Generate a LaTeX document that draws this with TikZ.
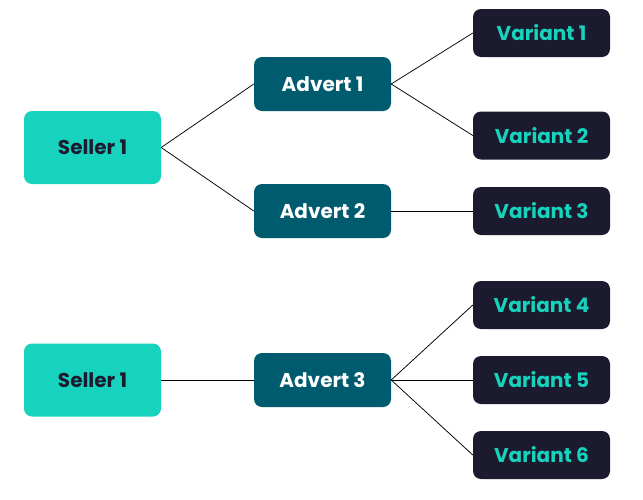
\documentclass[tikz,border=0pt]{standalone}
\usepackage{fontspec}
\setmainfont{Poppins}
\definecolor{sellerc}{HTML}{17D2BC}
\definecolor{advertc}{HTML}{005B6E}
\definecolor{variantc}{HTML}{1B1A2E}
\begin{document}
\begin{tikzpicture}[x=1pt,y=-1pt,
  box/.style={rounded corners=8pt, minimum width=137pt, inner sep=0pt, font=\fontsize{20}{22}\selectfont\bfseries},
  sellerbox/.style={box, fill=sellerc, text=variantc, minimum height=73pt},
  advertbox/.style={box, fill=advertc, text=white, minimum height=54pt},
  variantbox/.style={box, fill=variantc, text=sellerc, minimum height=48pt},
  link/.style={draw=black, line width=0.75pt}]
\useasboundingbox (0,0) rectangle (643,499);
\node[sellerbox] (s1) at (92.5,147.5) {Seller 1};
\node[advertbox] (a1) at (322.5,84) {Advert 1};
\node[advertbox] (a2) at (322.5,211) {Advert 2};
\node[variantbox] (v1) at (541.5,33) {Variant 1};
\node[variantbox] (v2) at (541.5,135.5) {Variant 2};
\node[variantbox] (v3) at (541.5,211) {Variant 3};
\node[sellerbox] (s2) at (92.5,380) {Seller 1};
\node[advertbox] (a3) at (322.5,380) {Advert 3};
\node[variantbox] (v4) at (541.5,305) {Variant 4};
\node[variantbox] (v5) at (541.5,380) {Variant 5};
\node[variantbox] (v6) at (541.5,455) {Variant 6};
\draw[link] (s1.east) -- (a1.west);
\draw[link] (s1.east) -- (a2.west);
\draw[link] (a1.east) -- (v1.west);
\draw[link] (a1.east) -- (v2.west);
\draw[link] (a2.east) -- (v3.west);
\draw[link] (s2.east) -- (a3.west);
\draw[link] (a3.east) -- (v4.west);
\draw[link] (a3.east) -- (v5.west);
\draw[link] (a3.east) -- (v6.west);
\end{tikzpicture}
\end{document}
